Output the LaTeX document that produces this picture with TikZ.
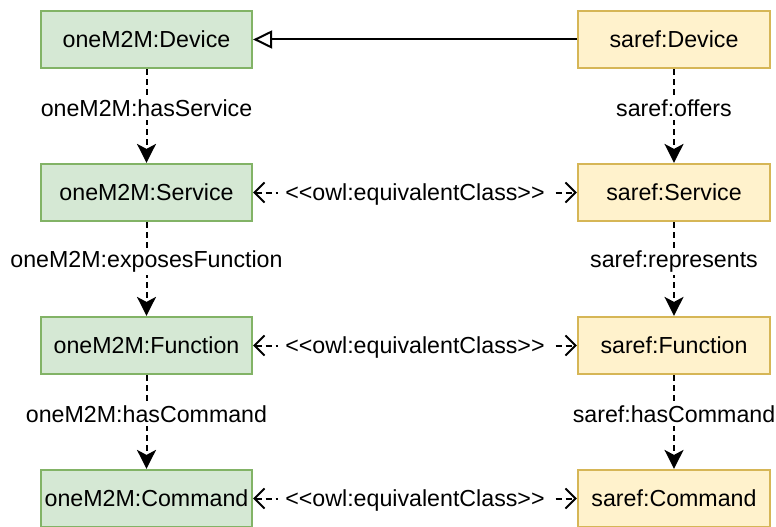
\documentclass[tikz,border=0pt]{standalone}
\usepackage{fontspec}
\setmainfont{Liberation Sans}
\usetikzlibrary{arrows.meta}
\definecolor{gfill}{HTML}{D5E8D4}
\definecolor{gline}{HTML}{82B366}
\definecolor{yfill}{HTML}{FFF2CC}
\definecolor{yline}{HTML}{D6B656}
\newcommand{\labfont}{\fontsize{23.2}{27}\selectfont}
\begin{document}
\begin{tikzpicture}[x=1pt,y=-1pt,
  gbox/.style={draw=gline, fill=gfill, line width=2.2pt, minimum width=211pt, minimum height=57pt, inner sep=0pt, font=\labfont},
  ybox/.style={draw=yline, fill=yfill, line width=2.2pt, minimum width=192pt, minimum height=57pt, inner sep=0pt, font=\labfont},
  lbl/.style={fill=white, inner sep=3pt, font=\labfont},
  eqlbl/.style={fill=white, inner xsep=7pt, inner ysep=3pt, yshift=-2pt, font=\labfont},
  inh/.style={line width=2pt, -{Triangle[open, length=19pt, width=18pt]}},
  vdash/.style={line width=2pt, dash pattern=on 6pt off 4pt, -{Stealth[length=19pt, width=19pt, inset=5pt]}},
  eqv/.style={line width=2pt, dash pattern=on 6pt off 4pt, {Straight Barb[length=10pt, width=20pt]}-{Straight Barb[length=10pt, width=20pt]}}
]
\useasboundingbox (0,0) rectangle (776,527);
\node[gbox] (od) at (146.5,39.5) {oneM2M:Device};
\node[gbox] (os) at (146.5,192.5) {oneM2M:Service};
\node[gbox] (of) at (146.5,345.5) {oneM2M:Function};
\node[gbox] (oc) at (146.5,498.5) {oneM2M:Command};
\node[ybox] (sd) at (674,39.5) {saref:Device};
\node[ybox] (ss) at (674,192.5) {saref:Service};
\node[ybox] (sf) at (674,345.5) {saref:Function};
\node[ybox] (sc) at (674,498.5) {saref:Command};

\draw[inh] (sd) -- (od);

\draw[vdash] (od) -- node[lbl, pos=0.42] {oneM2M:hasService} (os);
\draw[vdash] (os) -- node[lbl, pos=0.42] {oneM2M:exposesFunction} (of);
\draw[vdash] (of) -- node[lbl, pos=0.42] {oneM2M:hasCommand} (oc);
\draw[vdash] (sd) -- node[lbl, pos=0.42] {saref:offers} (ss);
\draw[vdash] (ss) -- node[lbl, pos=0.42] {saref:represents} (sf);
\draw[vdash] (sf) -- node[lbl, pos=0.42] {saref:hasCommand} (sc);

\draw[eqv] (os) -- node[eqlbl] {<{}<owl:equivalentClass>{}>} (ss);
\draw[eqv] (of) -- node[eqlbl] {<{}<owl:equivalentClass>{}>} (sf);
\draw[eqv] (oc) -- node[eqlbl] {<{}<owl:equivalentClass>{}>} (sc);
\end{tikzpicture}
\end{document}
